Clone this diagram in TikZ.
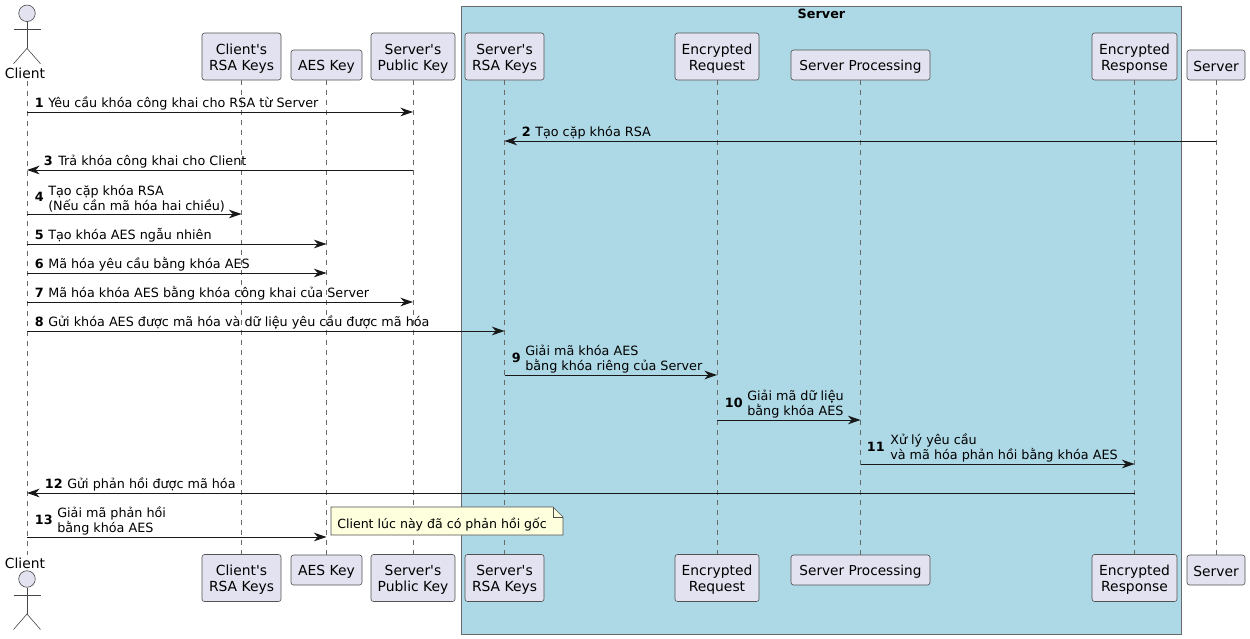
\documentclass[tikz,border=0pt]{standalone}
\usepackage{fontspec}
\newfontfamily\djv{DejaVu Sans}
\usetikzlibrary{arrows.meta,calc}
\definecolor{partfill}{HTML}{E2E2F0}
\definecolor{ink}{HTML}{181818}
\definecolor{boxfill}{HTML}{ADD8E6}
\definecolor{notefill}{HTML}{FEFFDD}
\tikzset{
  part/.style={draw=ink!75,fill=partfill,line width=0.45pt,rounded corners=1.9pt,inner sep=0pt,align=center,font=\djv\fontsize{10.4}{12}\selectfont,text=black},
  life/.style={draw=ink!65,line width=0.4pt,dash pattern=on 3.75pt off 3.75pt},
  msgline/.style={draw=ink,line width=0.75pt,-{Stealth[length=9.5pt,width=6.5pt,inset=3pt]}},
  lbl/.style={inner sep=0pt,anchor=base west,font=\djv\fontsize{9.57}{11.25}\selectfont,align=left,text=black},
  num/.style={inner sep=0pt,anchor=base east,font=\djv\fontsize{9.57}{11.25}\selectfont\bfseries,text=black},
  actorline/.style={draw=ink!80,line width=0.45pt},
  actorname/.style={inner sep=0pt,font=\djv\fontsize{10.4}{12}\selectfont,text=black},
}
\newcommand{\partbox}[6]{\node[part,minimum width=#4*0.75pt,minimum height=#5*0.75pt] (#1) at (#2,#3) {#6};}
\newcommand{\oneup}{\rule{0pt}{10.6pt}}
\newcommand{\twoup}{\rule{0pt}{11.8pt}}
\newcommand{\twobot}{\rule{0pt}{11pt}}
\newcommand{\actorfig}[3]{%
  \node[draw=ink!80,fill=partfill,line width=0.45pt,circle,minimum size=12.4pt,inner sep=0pt] (#1) at (#2,#3) {};
  \coordinate (#1hip) at (#2,#3+35);
  \draw[actorline] (#1.south) -- (#1hip);
  \coordinate (#1la) at (#2-13.5,#3+16);
  \coordinate (#1ra) at (#2+13.5,#3+16);
  \draw[actorline] (#1la) -- (#1ra);
  \coordinate (#1ll) at (#2-13.5,#3+50.5);
  \coordinate (#1rl) at (#2+13.5,#3+50.5);
  \draw[actorline] (#1ll) -- (#1hip) -- (#1rl);
}
\newcommand{\msgto}[4]{% name, from-node, to-node, y
  \coordinate (#1s) at (#2 |- 0,#4);
  \coordinate (#1e) at (#3 |- 0,#4);
  \draw[msgline] (#1s) -- (#1e);
}
\begin{document}
\begin{tikzpicture}[x=0.75pt,y=-0.75pt]
\useasboundingbox (0,0) rectangle (1250,639);
\fill[white] (0,0) rectangle (1250,639);
% server box
\node[draw=ink!65,fill=boxfill,line width=0.5pt,minimum width=720*0.75pt,minimum height=628*0.75pt,inner sep=0pt] (srvbox) at (821,320) {};
\node[inner sep=0pt,font=\djv\fontsize{9.6}{12}\selectfont\bfseries,text=black] (srvtitle) at (821.5,14) {Server};
% participants, top
\partbox{rsaT}{241.5}{56.5}{79}{47}{\twoup Client's\\RSA Keys}
\partbox{aesT}{326.5}{65}{71}{30}{\oneup AES Key}
\partbox{spkT}{413}{56.5}{84}{47}{\twoup Server's\\Public Key}
\partbox{srsaT}{504.5}{56.5}{79}{47}{\twoup Server's\\RSA Keys}
\partbox{ereqT}{717}{56.5}{84}{47}{\twoup Encrypted\\Request}
\partbox{procT}{860.5}{65}{139}{30}{\oneup\fontsize{10.25}{12}\selectfont Server Processing}
\partbox{eresT}{1134.5}{56.5}{85}{47}{\twoup Encrypted\\Response}
\partbox{srvT}{1216}{65}{58}{30}{\oneup Server}
% participants, bottom
\partbox{rsaB}{241.5}{578}{79}{47}{\twobot Client's\\RSA Keys}
\partbox{aesB}{326.5}{570}{71}{30}{\oneup AES Key}
\partbox{spkB}{413}{578}{84}{47}{\twobot Server's\\Public Key}
\partbox{srsaB}{504.5}{578}{79}{47}{\twobot Server's\\RSA Keys}
\partbox{ereqB}{717}{578}{84}{47}{\twobot Encrypted\\Request}
\partbox{procB}{860.5}{570}{139}{30}{\oneup\fontsize{10.25}{12}\selectfont Server Processing}
\partbox{eresB}{1134.5}{578}{85}{47}{\twobot Encrypted\\Response}
\partbox{srvB}{1216}{570}{58}{30}{\oneup Server}
% actors
\node[actorname] (clT) at (25,73) {Client};
\node[actorname] (clB) at (25,563) {Client};
\coordinate (clL) at (27,81);
\coordinate (clM) at (27,555);
\actorfig{headT}{27}{13.3}
\actorfig{headB}{27}{579}
% lifelines
\draw[life] (clL) -- (clM);
\foreach \p in {rsa,aes,spk,srsa,ereq,proc,eres,srv} {\draw[life] (\p T.south) -- (\p B.north);}
% messages
\msgto{m1}{clL}{spkT.south}{112}
\msgto{m2}{srvT.south}{srsaT.south}{141}
\msgto{m3}{spkT.south}{clL}{170}
\msgto{m4}{clL}{rsaT.south}{214}
\msgto{m5}{clL}{aesT.south}{244}
\msgto{m6}{clL}{aesT.south}{273}
\msgto{m7}{clL}{spkT.south}{302}
\msgto{m8}{clL}{srsaT.south}{331}
\msgto{m9}{srsaT.south}{ereqT.south}{375}
\msgto{m10}{ereqT.south}{procT.south}{420}
\msgto{m11}{procT.south}{eresT.south}{464}
\msgto{m12}{eresT.south}{clL}{493}
\msgto{m13}{clL}{aesT.south}{537}
% labels
\node[num] (n1) at (44,107) {1}; \node[lbl] (t1) at (48,107) {Yêu cầu khóa công khai cho RSA từ Server};
\node[num] (n2) at (531,136) {2}; \node[lbl] (t2) at (535,136) {Tạo cặp khóa RSA};
\node[num] (n3) at (53,165) {3}; \node[lbl] (t3) at (58,165) {Trả khóa công khai cho Client};
\node[num] (n4) at (44,201.5) {4}; \node[lbl] (t4) at (48,210) {Tạo cặp khóa RSA\\(Nếu cần mã hóa hai chiều)};
\node[num] (n5) at (44,239) {5}; \node[lbl] (t5) at (48,239) {Tạo khóa AES ngẫu nhiên};
\node[num] (n6) at (44,268) {6}; \node[lbl] (t6) at (48,268) {Mã hóa yêu cầu bằng khóa AES};
\node[num] (n7) at (44,297) {7}; \node[lbl] (t7) at (48,297) {Mã hóa khóa AES bằng khóa công khai của Server};
\node[num] (n8) at (44,326) {8}; \node[lbl] (t8) at (48,326) {Gửi khóa AES được mã hóa và dữ liệu yêu cầu được mã hóa};
\node[num] (n9) at (521,362.5) {9}; \node[lbl] (t9) at (525,370.5) {Giải mã khóa AES\\bằng khóa riêng của Server};
\node[num] (n10) at (743,407.5) {10}; \node[lbl] (t10) at (747,415.5) {Giải mã dữ liệu\\bằng khóa AES};
\node[num] (n11) at (885,451.5) {11}; \node[lbl] (t11) at (890,459.5) {Xử lý yêu cầu\\và mã hóa phản hồi bằng khóa AES};
\node[num] (n12) at (63,488) {12}; \node[lbl] (t12) at (67,488) {Gửi phản hồi được mã hóa};
\node[num] (n13) at (53,524.5) {13}; \node[lbl] (t13) at (57,532.5) {Giải mã phản hồi\\bằng khóa AES};
% note
\coordinate (na) at (331,507);
\coordinate (nb) at (553,507);
\coordinate (nc) at (563,517);
\coordinate (nd) at (563,535);
\coordinate (ne) at (331,535);
\coordinate (nf) at (553,517);
\draw[draw=ink!75,fill=notefill,line width=0.45pt] (na) -- (nb) -- (nc) -- (nd) -- (ne) -- cycle;
\draw[draw=ink!75,line width=0.45pt] (nb) -- (nf) -- (nc);
\node[lbl,font=\djv\fontsize{9.43}{11}\selectfont] (notetext) at (337,528) {Client lúc này đã có phản hồi gốc};
\end{tikzpicture}
\end{document}
